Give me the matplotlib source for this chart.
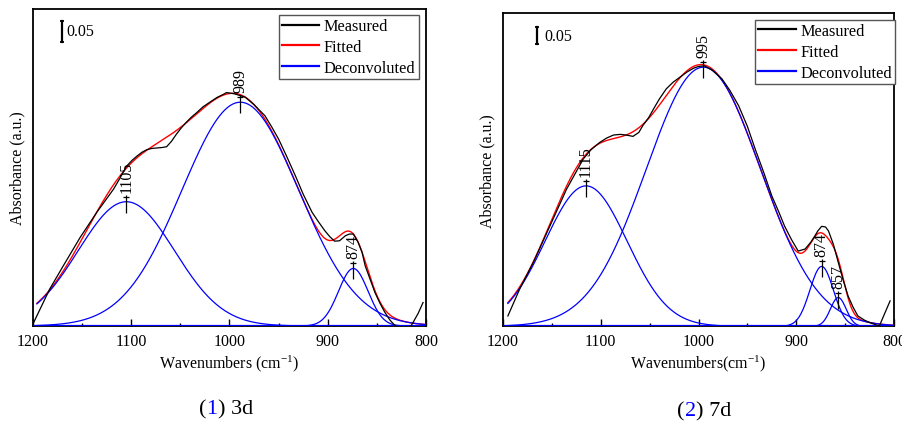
import matplotlib
matplotlib.use("Agg")
import matplotlib.pyplot as plt
import matplotlib.transforms as mtransforms
from matplotlib.lines import Line2D
from matplotlib.ticker import MultipleLocator
import numpy as np

plt.rcParams["font.family"] = ["Liberation Serif", "DejaVu Serif"]
plt.rcParams["mathtext.fontset"] = "custom"
plt.rcParams["mathtext.rm"] = "Liberation Serif"
plt.rcParams["mathtext.it"] = "Liberation Serif:italic"
plt.rcParams["font.size"] = 11.5

# ---- 3d sample ----
wn_3d = [1200, 1183, 1169, 1152, 1135, 1118, 1112, 1105, 1099, 1094, 1089, 1084,
         1079, 1074, 1069, 1064, 1059, 1054, 1049, 1044, 1039, 1033, 1027, 1020,
         1013, 1006, 1003, 995, 984, 975, 964, 957, 950, 942, 933, 925, 916, 910,
         903, 898, 893, 888, 882, 878, 874, 869, 865, 862, 857, 852, 847, 842,
         837, 832, 827, 822, 815, 808, 803]
abs_3d = [0.005, 0.088, 0.144, 0.211, 0.271, 0.326, 0.350, 0.380, 0.395, 0.405,
          0.414, 0.420, 0.423, 0.424, 0.425, 0.427, 0.440, 0.457, 0.472, 0.485,
          0.497, 0.509, 0.522, 0.533, 0.544, 0.552, 0.556, 0.553, 0.545, 0.527,
          0.501, 0.474, 0.445, 0.405, 0.358, 0.314, 0.271, 0.250, 0.227, 0.213,
          0.202, 0.203, 0.215, 0.219, 0.219, 0.199, 0.175, 0.144, 0.112, 0.080,
          0.055, 0.033, 0.015, 0.002, -0.006, -0.010, 0.001, 0.030, 0.056]
peaks_3d = [1105, 989, 874]
heights_3d = [0.296, 0.533, 0.137]
widths_3d = [49, 59.5, 15]
fit_start_3d = 1196

# ---- 7d sample ----
wn_7d = [1195, 1183, 1169, 1152, 1135, 1118, 1110, 1101, 1094, 1087, 1080, 1074,
         1067, 1061, 1057, 1051, 1046, 1040, 1033, 1026, 1019, 1012, 1005, 1000,
         994, 986, 976, 968, 959, 950, 942, 933, 925, 918, 912, 905, 898, 891,
         885, 881, 878, 874, 870, 867, 862, 857, 852, 847, 842, 837, 830, 823,
         815, 804]
abs_7d = [0.031, 0.111, 0.191, 0.300, 0.410, 0.500, 0.528, 0.550, 0.563, 0.572,
          0.574, 0.572, 0.568, 0.580, 0.600, 0.624, 0.650, 0.680, 0.710, 0.730,
          0.745, 0.760, 0.772, 0.777, 0.779, 0.766, 0.740, 0.706, 0.660, 0.598,
          0.530, 0.458, 0.390, 0.343, 0.300, 0.260, 0.225, 0.231, 0.252, 0.270,
          0.285, 0.299, 0.297, 0.285, 0.245, 0.191, 0.138, 0.091, 0.058, 0.031,
          0.018, 0.009, 0.001, 0.076]
peaks_7d = [1115, 995, 874, 857]
heights_7d = [0.420, 0.775, 0.179, 0.086]
widths_7d = [42, 58.5, 12, 8]
fit_start_7d = 1195

fig = plt.figure(figsize=(9.02, 4.27), dpi=100)
W, H = 902, 427


def px_axes(x0, x1, y0, y1):
    return fig.add_axes([x0 / W, 1 - y1 / H, (x1 - x0) / W, (y1 - y0) / H])


def off(ax, dy):
    return mtransforms.offset_copy(ax.transData, fig=fig, x=0, y=dy, units="dots")


def panel(ax, wn, ab, centers, heights, widths, start, ytop, bar, xlabel):
    x = np.linspace(start, 800, 600)
    comps = [h * np.exp(-(x - c) ** 2 / (2 * s ** 2))
             for c, h, s in zip(centers, heights, widths)]
    ax.plot(wn, ab, color="black", lw=0.9, zorder=4)
    ax.plot(x, np.sum(comps, axis=0), color="red", lw=1.0, zorder=3)
    for cp in comps:
        ax.plot(x, cp, color="blue", lw=0.9, zorder=3)
    ax.plot([1200, 800], [0, 0], color="blue", lw=1.6, zorder=3)

    # peak markers and labels
    for c, h in zip(centers, heights):
        ax.plot([c], [h], marker="|", ms=13.5, mew=0.9, color="black", zorder=5,
                transform=off(ax, -2))
        ax.plot([c], [h], marker="_", ms=4.8, mew=0.9, color="black", zorder=5,
                transform=off(ax, 5))
        ax.text(c, h, str(c), rotation=90, ha="center", va="bottom", fontsize=11.5,
                transform=off(ax, 10))

    ax.set_xlim(1200, 800)
    ax.set_ylim(0, ytop)
    ax.xaxis.set_major_locator(MultipleLocator(100))
    ax.xaxis.set_minor_locator(MultipleLocator(50))
    ax.tick_params(axis="x", which="major", direction="in", length=5, width=1,
                   pad=5, labelsize=11.5, top=False)
    ax.tick_params(axis="x", which="minor", direction="in", length=2.5, width=1,
                   top=False)
    ax.set_yticks([])
    for sp in ax.spines.values():
        sp.set_linewidth(1.3)

    ax.set_xlabel(xlabel, fontsize=11.5)
    ax.xaxis.set_label_coords(0.5, -0.085)
    ax.set_ylabel("Absorbance (a.u.)", fontsize=11.5)
    ax.yaxis.set_label_coords(-0.02, 0.5)

    # 0.05 scale bar
    bx, by, tx = bar
    tr = mtransforms.blended_transform_factory(ax.transAxes, ax.transData)
    ax.plot([bx, bx], [by, by + 0.05], color="black", lw=1.6, transform=tr,
            marker="_", ms=3, mew=1.3)
    ax.text(tx, by + 0.025, "0.05", fontsize=11.5, va="center", ha="left",
            transform=tr)

    handles = [Line2D([], [], color="black", lw=1.6),
               Line2D([], [], color="red", lw=1.6),
               Line2D([], [], color="blue", lw=1.6)]
    return handles


ax1 = px_axes(33, 426, 10, 327)
h1 = panel(ax1, wn_3d, abs_3d, peaks_3d, heights_3d, widths_3d, fit_start_3d,
           0.755, (0.0738, 0.677, 0.084), "Wavenumbers (cm$^{-1}$)")
ax2 = px_axes(503, 894, 14, 327.3)
h2 = panel(ax2, wn_7d, abs_7d, peaks_7d, heights_7d, widths_7d, fit_start_7d,
           0.937, (0.0877, 0.844, 0.105), "Wavenumbers(cm$^{-1}$)")

labels = ["Measured", "Fitted", "Deconvoluted"]
for ax, hd, anchor in [(ax1, h1, (418.5, 16)), (ax2, h2, (895, 20.7))]:
    leg = ax.legend(hd, labels, loc="upper right",
                    bbox_to_anchor=(anchor[0] / W, 1 - anchor[1] / H),
                    bbox_transform=fig.transFigure, fontsize=11.7,
                    handlelength=2.3, handletextpad=0.27, labelspacing=0.3,
                    borderpad=0.2, borderaxespad=0, fancybox=False,
                    framealpha=1, edgecolor="#555555")
    leg.get_frame().set_linewidth(1.0)
    leg.set_zorder(10)

# captions with a blue number
renderer = fig.canvas.get_renderer()
for xc, yc, parts in [(226, 410, [("(", "black"), ("1", "blue"), (") 3d", "black")]),
                      (704, 412, [("(", "black"), ("2", "blue"), (") 7d", "black")])]:
    texts = [fig.text(0, 1 - yc / H, s, color=c, fontsize=16, va="center", ha="left")
             for s, c in parts]
    widths = [t.get_window_extent(renderer).width for t in texts]
    xpos = xc - sum(widths) / 2
    for t, w in zip(texts, widths):
        t.set_x(xpos / W)
        xpos += w

fig.savefig("out.png", dpi=100)
